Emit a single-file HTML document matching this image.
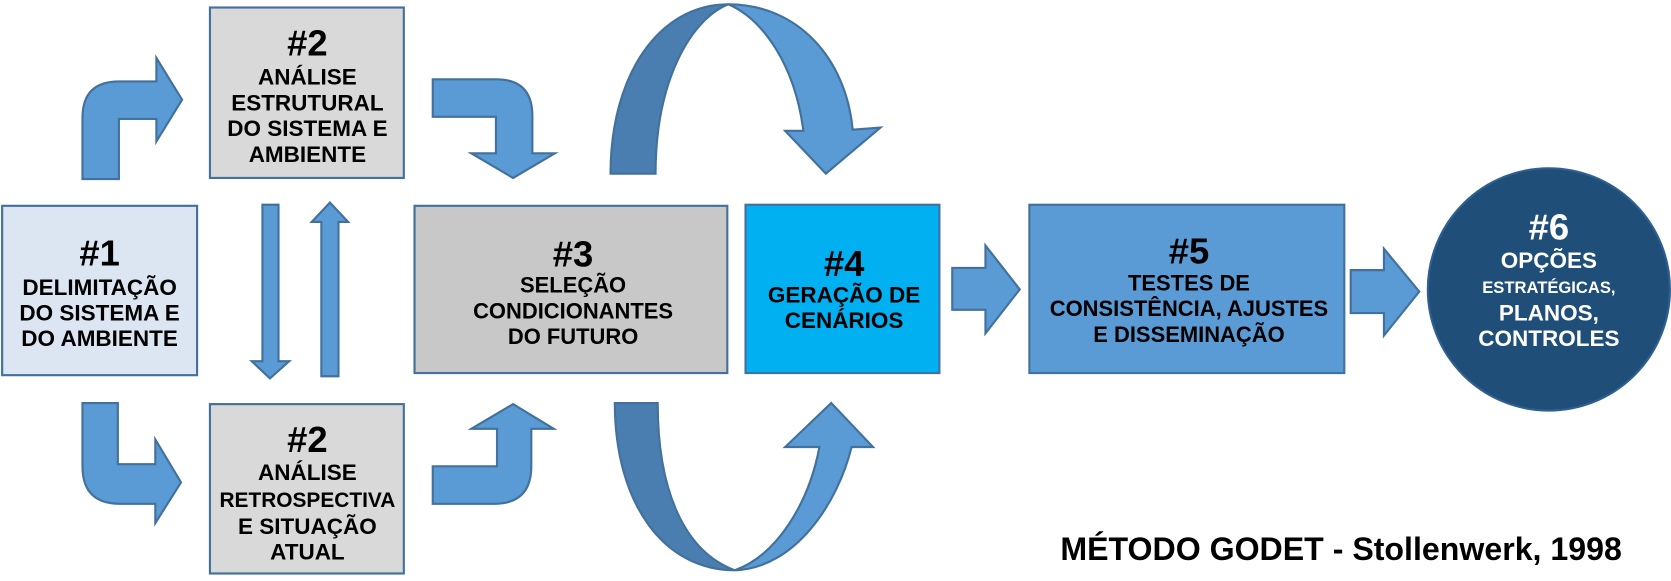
<!DOCTYPE html>
<html><head><meta charset="utf-8"><style>
html,body{margin:0;padding:0;background:#fff;}
svg{display:block;}
text{font-family:"Liberation Sans",Arial,sans-serif;font-weight:bold;text-anchor:middle;dominant-baseline:central;}
</style></head><body>
<svg width="1671" height="581" viewBox="0 0 1560 542" preserveAspectRatio="none" xmlns="http://www.w3.org/2000/svg">
<g stroke="#41719c" stroke-width="2" stroke-linejoin="miter">
<rect x="2" y="192" width="182" height="158" fill="#dce6f2"/>
<rect x="196" y="7" width="181" height="159" fill="#d9d9d9"/>
<rect x="196" y="377" width="181" height="158" fill="#d9d9d9"/>
<rect x="387" y="192" width="292" height="156" fill="#c8c8c8"/>
<rect x="696" y="191" width="181" height="157" fill="#00b0f0"/>
<rect x="961" y="191" width="294" height="157" fill="#5b9bd5"/>
<circle cx="1446" cy="270" r="113" fill="#1f4e79" stroke="#2e5f90"/>
<g fill="#5b9bd5">
<path d="M77,167 L77,110 Q77,76 111,76 L146,76 L146,54 L170,93 L146,132 L146,111 L111,111 L111,167 Z"/>
<path d="M404,74 L463,74 Q497,74 497,108 L497,143 L518,143 L479,166 L440,143 L463,143 L463,109 L404,109 Z"/>
<path d="M77,376 L110,376 L110,433 L145,433 L145,410 L169,450 L145,488 L145,470 L112,470 Q77,470 77,435 Z"/>
<path d="M404,435 L464,435 L464,400 L440,400 L479,377 L517,400 L496,400 L496,435 Q496,470 461,470 L404,470 Z"/>
<path d="M245,191 L260,191 L260,337 L270,337 L252,353 L235,337 L245,337 Z"/>
<path d="M300,351 L316,351 L316,207 L325,207 L308,189 L291,207 L300,207 Z"/>
<path d="M889,250 L920,250 L920,229 L952,270 L920,311 L920,289 L889,289 Z"/>
<path d="M1261,252 L1292,252 L1292,232 L1325,272 L1292,313 L1292,292 L1261,292 Z"/>
<path d="M680,4 C745,4 790,55 796,121 L822,119 L771,162 L733,122 L750,122 C742,60 712,18 680,4 Z"/>
<path d="M686,532 C742,530 782,470 795,417 L815,417 L776,376 L733,417 L765,417 C755,470 725,518 686,532 Z"/>
</g>
<g fill="#4a7eb0">
<path d="M570,162 C570,70 615,4 680,4 C645,18 612,75 612,162 Z"/>
<path d="M574,376 L614,376 C614,460 640,515 686,532 C620,532 574,470 574,376 Z"/>
</g>
</g>
<g fill="#000">
<text x="93" y="236" font-size="34">#1</text>
<text x="93" y="268" font-size="21">DELIMITAÇÃO</text>
<text x="93" y="292" font-size="21">DO SISTEMA E</text>
<text x="93" y="316" font-size="21">DO AMBIENTE</text>

<text x="287" y="40" font-size="34">#2</text>
<text x="287" y="72" font-size="21">ANÁLISE</text>
<text x="287" y="96" font-size="21">ESTRUTURAL</text>
<text x="287" y="120" font-size="21">DO SISTEMA E</text>
<text x="287" y="144" font-size="21">AMBIENTE</text>

<text x="287" y="410" font-size="34">#2</text>
<text x="287" y="441" font-size="21">ANÁLISE</text>
<text x="287" y="467" font-size="19.5">RETROSPECTIVA</text>
<text x="287" y="491" font-size="21">E SITUAÇÃO</text>
<text x="287" y="515" font-size="21">ATUAL</text>

<text x="535" y="237" font-size="34">#3</text>
<text x="535" y="266" font-size="20.5">SELEÇÃO</text>
<text x="535" y="290" font-size="20.5">CONDICIONANTES</text>
<text x="535" y="314" font-size="20.5">DO FUTURO</text>

<text x="788" y="246" font-size="34">#4</text>
<text x="788" y="275" font-size="21">GERAÇÃO DE</text>
<text x="788" y="299" font-size="21">CENÁRIOS</text>

<text x="1110" y="234" font-size="34">#5</text>
<text x="1110" y="264" font-size="20.5">TESTES DE</text>
<text x="1110" y="288" font-size="20.5">CONSISTÊNCIA, AJUSTES</text>
<text x="1110" y="312" font-size="20.5">E DISSEMINAÇÃO</text>
</g>
<g fill="#fff">
<text x="1446" y="212" font-size="34">#6</text>
<text x="1446" y="243" font-size="21">OPÇÕES</text>
<text x="1446" y="268" font-size="15.5">ESTRATÉGICAS,</text>
<text x="1446" y="292" font-size="21">PLANOS,</text>
<text x="1446" y="316" font-size="21">CONTROLES</text>
</g>
<text x="1252" y="512" font-size="30" fill="#000">MÉTODO GODET - Stollenwerk, 1998</text>
</svg>
</body></html>
